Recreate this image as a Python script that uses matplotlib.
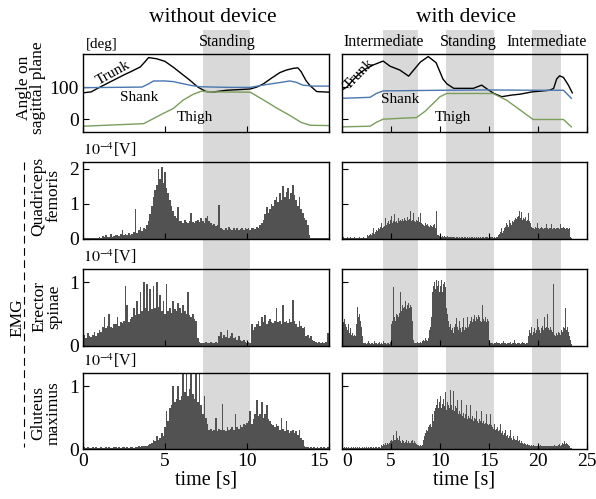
import matplotlib.pyplot as plt
import numpy as np
from matplotlib.transforms import blended_transform_factory

plt.rcParams['font.family'] = ['Liberation Serif', 'DejaVu Serif']
plt.rcParams['mathtext.fontset'] = 'stix'

# ---- joint angles [deg], knots ----
wo_trunk_t = [0, 0.5, 1.0, 1.5, 2.0, 2.5, 3.0, 3.5, 3.8, 4.0, 4.5, 5.0, 5.5, 6.0, 6.5, 7.0, 7.5, 8.0,
              8.75, 9.5, 10.2, 10.6, 11.0, 11.5, 12.0, 12.4, 12.8, 13.1, 13.3, 13.6, 13.85, 14.25, 15]
wo_trunk = [82, 85, 99, 112, 125, 138, 150, 163, 180, 192, 188, 180, 162, 142, 122, 100, 86, 85,
            90, 92, 94, 100, 110, 128, 145, 153, 158, 160, 148, 120, 104, 86, 84]
wo_shank_t = [0, 3.6, 4.0, 4.3, 5.0, 5.5, 6.5, 7.1, 8.0, 9.0, 10.2, 11.2, 12.0, 12.6, 13.0, 13.4, 14.0, 15]
wo_shank = [98, 100, 110, 119, 119, 117, 106, 101, 100, 99, 99, 108, 114, 119, 115, 106, 103, 103]
wo_thigh_t = [0, 3.7, 4.3, 4.9, 5.5, 6.1, 6.7, 7.2, 8.0, 10.2, 11.0, 11.8, 12.6, 13.3, 13.85, 15]
wo_thigh = [-22, -14, 2, 18, 33, 59, 77, 87, 85, 84, 60, 35, 12, -10, -19, -20]

w_trunk_t = [0, 0.5, 1.0, 1.8, 2.5, 3.2, 4.2, 4.9, 5.9, 6.8, 7.45, 8.0, 8.8, 9.6, 10.3, 10.7, 11.4,
             13.4, 14.25, 14.9, 15.5, 16.3, 17.3, 18.2, 19.4, 21.2, 21.6, 21.9, 22.2, 22.6, 23.1, 23.5]
w_trunk = [91, 100, 118, 143, 158, 169, 181, 165, 153, 134, 158, 178, 195, 176, 125, 110, 96,
           96, 106, 92, 80, 70, 75, 78, 85, 90, 96, 125, 135, 130, 106, 82]
w_shank_t = [0, 2.86, 3.5, 4.2, 10, 15, 20, 22.6, 23.4]
w_shank = [65, 68, 80, 88, 90, 91, 90, 90, 65]
w_thigh_t = [0, 2.86, 3.5, 4.2, 7.6, 8.5, 9.3, 10.0, 10.7, 15.4, 16.8, 18.2, 19.5, 22.6, 23.4]
w_thigh = [-24, -22, -10, 0, 5, 25, 49, 70, 80, 80, 59, 28, -1, -1, -24]

# ---- EMG [1e-4 V], one value every 0.1 s ----
wo_quad = [
    .03, .02, .04, .03, .02, .03, .04, .03, .02, .03,
    .05, .04, .08, .06, .10, .05, .07, .15, .06, .09,
    .10, .12, .08, .14, .25, .11, .13, .10, .18, .12,
    .15, .20, .86, .18, .25, .35, .22, .30, .28, .40,
    .50, .70, .95, 1.2, 1.4, 1.55, 2.0, 1.7, 2.05, 1.6,
    1.9, 1.45, 1.3, 1.1, .95, .80, .65, .60, .90, .50,
    .50, .45, .55, .48, .45, .50, .75, .48, .45, .50,
    .55, .48, .60, .50, .45, .60, .65, .50, .45, .40,
    .42, .38, .40, .96, .30, .28, .25, .30, .27, .35,
    .28, .25, .30, .27, .32, .25, .28, .30, .26, .30,
    .28, .30, .27, .32, .30, .28, .35, .30, .40, .45,
    .55, .70, .90, .75, .85, 1.0, .95, 1.1, 1.2, 1.05,
    1.3, 1.1, 1.5, 1.2, 1.35, 1.45, 1.15, 1.3, 1.55, 1.25,
    1.1, .95, 1.2, .85, .75, .60, .55, .40, .10, .04,
    .03, .04, .03, .02, .03, .04, .03, .03, .02, .03,
    .03]
wo_erec = [
    .15, .18, .12, .20, .16, .14, .18, .22, .15, .20,
    .25, .22, .30, .46, .28, .32, .50, .30, .28, .35,
    .35, .45, .32, .38, .36, .40, .94, .65, .38, .42,
    .45, .60, .48, .70, .50, .85, .55, 1.0, .60, .98,
    .55, .90, .58, .95, .60, 1.0, .62, .80, .55, .70,
    .50, .98, .55, .60, .52, .70, .58, .55, .68, .60,
    .52, .65, .55, .50, .85, .48, .45, .50, .42, .40,
    .12, .06, .05, .04, .05, .06, .04, .05, .06, .05,
    .05, .06, .05, .15, .22, .12, .18, .14, .25, .12,
    .15, .20, .12, .14, .10, .15, .10, .08, .10, .06,
    .05, .06, .05, .35, .25, .30, .35, .40, .32, .45,
    .38, .49, .35, .40, .42, .38, .36, .40, .60, .38,
    .40, .35, .65, .38, .40, .36, .42, .38, .72, .40,
    .35, .30, .40, .32, .28, .30, .15, .18, .12, .15,
    .10, .08, .06, .05, .06, .05, .07, .05, .06, .20,
    .20]
wo_glut = [
    .02, .03, .02, .03, .02, .02, .03, .02, .03, .02,
    .02, .03, .02, .02, .03, .02, .03, .02, .02, .03,
    .03, .02, .03, .02, .03, .03, .02, .03, .02, .03,
    .03, .02, .03, .03, .04, .03, .05, .04, .05, .04,
    .06, .08, .10, .15, .12, .20, .15, .18, .25, .20,
    .35, .60, .45, .65, .70, 1.0, .75, .80, 1.0, .78,
    .85, 1.2, .90, 1.2, .85, .95, 1.2, .88, .80, 1.2,
    .75, 1.2, .70, .55, .85, .50, .40, .30, .32, .28,
    .30, .50, .28, .32, .30, .71, .30, .28, .35, .30,
    .32, .35, .30, .55, .35, .32, .38, .35, .40, .38,
    .42, .45, .60, .40, .48, .55, .78, .52, .55, .75,
    .50, .55, .70, .48, .45, .40, .38, .35, .40, .36,
    .30, .50, .32, .28, .45, .30, .25, .28, .30, .25,
    .28, .22, .30, .18, .15, .05, .03, .03, .02, .03,
    .02, .03, .02, .03, .02, .03, .02, .03, .02, .03,
    .03]

w_quad = [
    .04, .03, .05, .04, .03, .04, .05, .03, .04, .05,
    .04, .03, .04, .05, .03, .04, .03, .04, .05, .03,
    .04, .03, .05, .04, .03, .04, .10, .08, .12, .15,
    .10, .18, .30, .15, .20, .25, .22, .30, .28, .35,
    .45, .30, .35, .38, .60, .40, .45, .50, .42, .55,
    .48, .65, .45, .50, .70, .48, .52, .45, .60, .50,
    .55, .50, .58, .52, .60, .55, .50, .62, .55, .58,
    .80, .50, .55, .75, .52, .48, .55, .50, .62, .48,
    .75, .45, .42, .40, .38, .45, .40, .42, .38, .35,
    .40, .38, .35, .40, .42, .30, .80, .12, .10, .08,
    .10, .08, .07, .09, .06, .08, .07, .06, .08, .05,
    .07, .06, .05, .06, .05, .06, .04, .05, .06, .04,
    .05, .04, .06, .05, .04, .05, .06, .04, .05, .04,
    .05, .04, .05, .06, .04, .05, .04, .05, .04, .05,
    .04, .05, .04, .06, .05, .04, .05, .06, .05, .04,
    .05, .04, .05, .06, .05, .04, .05, .04, .05, .06,
    .10, .15, .20, .30, .18, .22, .30, .35, .45, .40,
    .35, .55, .45, .40, .50, .48, .55, .60, .58, .62,
    .65, .80, .60, .78, .55, .60, .58, .62, .50, .55,
    .75, .50, .45, .35, .30, .32, .28, .35, .30, .45,
    .30, .32, .28, .30, .35, .30, .28, .32, .30, .42,
    .30, .28, .32, .30, .42, .28, .30, .32, .28, .30,
    .32, .30, .28, .42, .30, .32, .35, .30, .28, .30,
    .32, .28, .30, .05, .03, .03]
w_erec = [
    .45, .40, .38, .42, .35, .30, .25, .35, .20, .28,
    .18, .20, .15, .18, .16, .35, .61, .45, .50, .40,
    .30, .15, .05, .04, .05, .03, .04, .08, .04, .03,
    .04, .05, .03, .08, .04, .05, .03, .04, .06, .03,
    .04, .03, .08, .04, .05, .03, .04, .05, .03, .06,
    .20, .35, .40, .92, .45, .40, .50, .48, .45, .52,
    .85, .55, .65, .60, .62, .70, .58, .65, .68, .60,
    .65, .62, .40, .10, .05, .04, .05, .06, .04, .05,
    .06, .05, .08, .10, .08, .12, .10, .08, .12, .25,
    .30, .45, .85, .95, 1.0, .90, 1.03, .95, 1.02, .85,
    1.0, .95, 1.03, .85, .98, 1.0, .92, .60, .50, .40,
    .30, .35, .25, .28, .20, .30, .35, .44, .30, .25,
    .40, .28, .22, .30, .44, .25, .30, .28, .45, .30,
    .35, .40, .45, .38, .42, .49, .40, .45, .42, .48,
    .45, .40, .38, .65, .42, .40, .45, .38, .42, .40,
    .35, .10, .05, .04, .05, .03, .04, .05, .06, .04,
    .05, .04, .03, .05, .04, .08, .04, .05, .03, .04,
    .05, .04, .06, .03, .04, .05, .10, .04, .03, .05,
    .04, .05, .03, .04, .06, .04, .05, .03, .04, .05,
    .15, .25, .20, .30, .18, .22, .28, .20, .25, .42,
    .22, .30, .25, .20, .28, .32, .25, .45, .28, .30,
    .50, .28, .25, .30, .25, .22, .97, .18, .15, .20,
    .18, .22, .20, .18, .25, .22, .30, .28, .60, .25,
    .30, .22, .15, .10, .03, .00]
w_glut = [
    .02, .03, .02, .03, .02, .03, .02, .03, .02, .02,
    .03, .02, .03, .02, .03, .02, .03, .02, .03, .02,
    .02, .03, .02, .03, .02, .03, .02, .03, .02, .03,
    .03, .02, .03, .02, .03, .03, .02, .03, .03, .02,
    .06, .05, .08, .06, .10, .07, .09, .08, .10, .12,
    .12, .15, .13, .22, .14, .15, .28, .18, .15, .20,
    .12, .10, .15, .12, .10, .11, .15, .10, .12, .10,
    .10, .12, .15, .10, .12, .10, .08, .07, .06, .05,
    .06, .05, .07, .15, .20, .25, .30, .28, .35, .38,
    .40, .35, .55, .45, .60, .65, .70, .80, .65, .75,
    .70, .85, .65, .72, .80, .68, .90, .62, .75, .70,
    .65, .94, .70, .62, .92, .60, .68, .65, .78, .55,
    .60, .55, .78, .52, .58, .50, .55, .70, .48, .52,
    .50, .70, .48, .52, .45, .50, .48, .60, .45, .42,
    .48, .45, .60, .42, .45, .40, .42, .55, .40, .38,
    .42, .40, .55, .38, .35, .32, .40, .30, .32, .35,
    .28, .30, .40, .25, .28, .22, .25, .30, .20, .22,
    .18, .20, .30, .18, .15, .20, .16, .14, .15, .20,
    .12, .14, .10, .12, .10, .08, .10, .08, .07, .08,
    .06, .07, .05, .06, .05, .06, .05, .04, .05, .04,
    .05, .04, .05, .06, .04, .05, .04, .05, .04, .05,
    .04, .05, .04, .05, .04, .05, .04, .06, .05, .04,
    .05, .06, .08, .05, .06, .10, .08, .12, .08, .10,
    .08, .06, .04, .02, .02, .02]

wo_spans = [(7.3, 10.2)]
w_spans = [(4.2, 7.75), (10.6, 15.5), (19.4, 22.3)]
wo_phase = [('Standing', 8.78)]
w_phase = [('Intermediate', 4.2), ('Standing', 12.9), ('Intermediate', 20.9)]

c_trunk = 'black'
c_shank = '#4a76b0'
c_thigh = '#7a9e5c'
c_emg = '#525252'
c_span = '#d9d9d9'

W, H = 596, 499
fig = plt.figure(figsize=(W / 100, H / 100), dpi=100)


def px_axes(x0, x1, top, bottom, **kw):
    return fig.add_axes([x0 / W, 1 - bottom / H, (x1 - x0) / W, (bottom - top) / H], **kw)


cols = [(83, 329, 15, wo_spans, wo_phase), (342, 587, 25, w_spans, w_phase)]
rows = [(54, 132), (162, 239), (269, 346), (373, 449)]

# grey phase bands behind every row
for x0, x1, tmax, spans, phases in cols:
    bg = px_axes(x0, x1, 30, 449)
    bg.set_xlim(0, tmax)
    bg.set_ylim(0, 1)
    bg.axis('off')
    for a, b in spans:
        bg.axvspan(a, b, color=c_span, lw=0)
    tr = blended_transform_factory(bg.transData, fig.transFigure)
    for name, xc in phases:
        bg.text(xc, 1 - 42 / H, name, transform=tr, ha='center', va='center', fontsize=11.5)

angle_data = [
    [(wo_trunk_t, wo_trunk, c_trunk), (wo_shank_t, wo_shank, c_shank), (wo_thigh_t, wo_thigh, c_thigh)],
    [(w_trunk_t, w_trunk, c_trunk), (w_shank_t, w_shank, c_shank), (w_thigh_t, w_thigh, c_thigh)],
]
emg_data = [[wo_quad, wo_erec, wo_glut], [w_quad, w_erec, w_glut]]
emg_ylim = [2.2, 1.21, 1.21]
emg_ticks = [[0, 1, 2], [0, 1], [0, 1]]

for ci, (x0, x1, tmax, spans, phases) in enumerate(cols):
    for ri, (top, bottom) in enumerate(rows):
        ax = px_axes(x0, x1, top, bottom)
        ax.set_facecolor('none')
        ax.set_xlim(0, tmax)
        if ri == 0:
            for tt, vv, cc in angle_data[ci]:
                ax.plot(tt, vv, color=cc, lw=1.0)
            ax.set_ylim(-40, 203)
            ax.set_yticks([0, 100])
        else:
            vals = np.array(emg_data[ci][ri - 1])
            t = np.arange(len(vals)) * 0.1
            ax.fill_between(t, 0, vals, step='mid', color=c_emg, lw=0)
            ax.set_ylim(0, emg_ylim[ri - 1])
            ax.set_yticks(emg_ticks[ri - 1])
        ax.set_xticks(range(0, tmax + 1, 5))
        ax.tick_params(direction='in', length=4, width=0.8, labelsize=14, pad=3)
        if ri < 3:
            ax.set_xticklabels([])
        else:
            ax.set_xlabel('time [s]', fontsize=14.5, labelpad=0)
            # keep "15" and "0" of the two columns apart
            if ci == 0:
                ax.xaxis.get_major_ticks()[-1].label1.set_horizontalalignment('right')
            else:
                ax.xaxis.get_major_ticks()[0].label1.set_horizontalalignment('left')
        if ci == 1:
            ax.set_yticklabels([])
        for s in ax.spines.values():
            s.set_linewidth(1.0)
        if ci == 0 and ri > 0:
            ax.text(0, 1.04, r'$10^{-4}$[V]', transform=ax.transAxes, fontsize=11.5, ha='left', va='bottom')
        if ri == 0 and ci == 0:
            ax.text(0.01, 1.04, '[deg]', transform=ax.transAxes, fontsize=11, ha='left', va='bottom')
            ax.text(1.83, 144, 'Trunk', rotation=29, fontsize=11, ha='center', va='center')
            ax.text(3.4, 69, 'Shank', fontsize=11, ha='center', va='center')
            ax.text(6.8, 6, 'Thigh', fontsize=11, ha='center', va='center')
        if ri == 0 and ci == 1:
            ax.text(1.7, 140, 'Trunk', rotation=46, fontsize=11, ha='center', va='center')
            ax.text(5.9, 62, 'Shank', fontsize=11, ha='center', va='center')
            ax.text(11.3, 6, 'Thigh', fontsize=11, ha='center', va='center')

fig.text(213 / W, 1 - 17 / H, 'without device', ha='center', va='center', fontsize=15.5)
fig.text(466 / W, 1 - 17 / H, 'with device', ha='center', va='center', fontsize=15.5)

ylabels = [('Angle on\nsagittal plane', 31, 88), ('Quadriceps\nfemoris', 46, 196),
           ('Erector\nspinae', 47, 307), ('Gluteus\nmaximus', 46, 413)]
for txt, x, y in ylabels:
    fig.text(x / W, 1 - y / H, txt, rotation=90, ha='center', va='center',
             fontsize=12.5, linespacing=0.9, multialignment='center')

fig.text(17 / W, 1 - 318 / H, 'EMG', rotation=90, ha='center', va='center', fontsize=12.5)
fig.add_artist(plt.Line2D([24 / W, 24 / W], [1 - 162 / H, 1 - 447 / H], color='black',
                          lw=0.8, linestyle=(0, (7, 4))))

fig.savefig('out.png', dpi=100)
